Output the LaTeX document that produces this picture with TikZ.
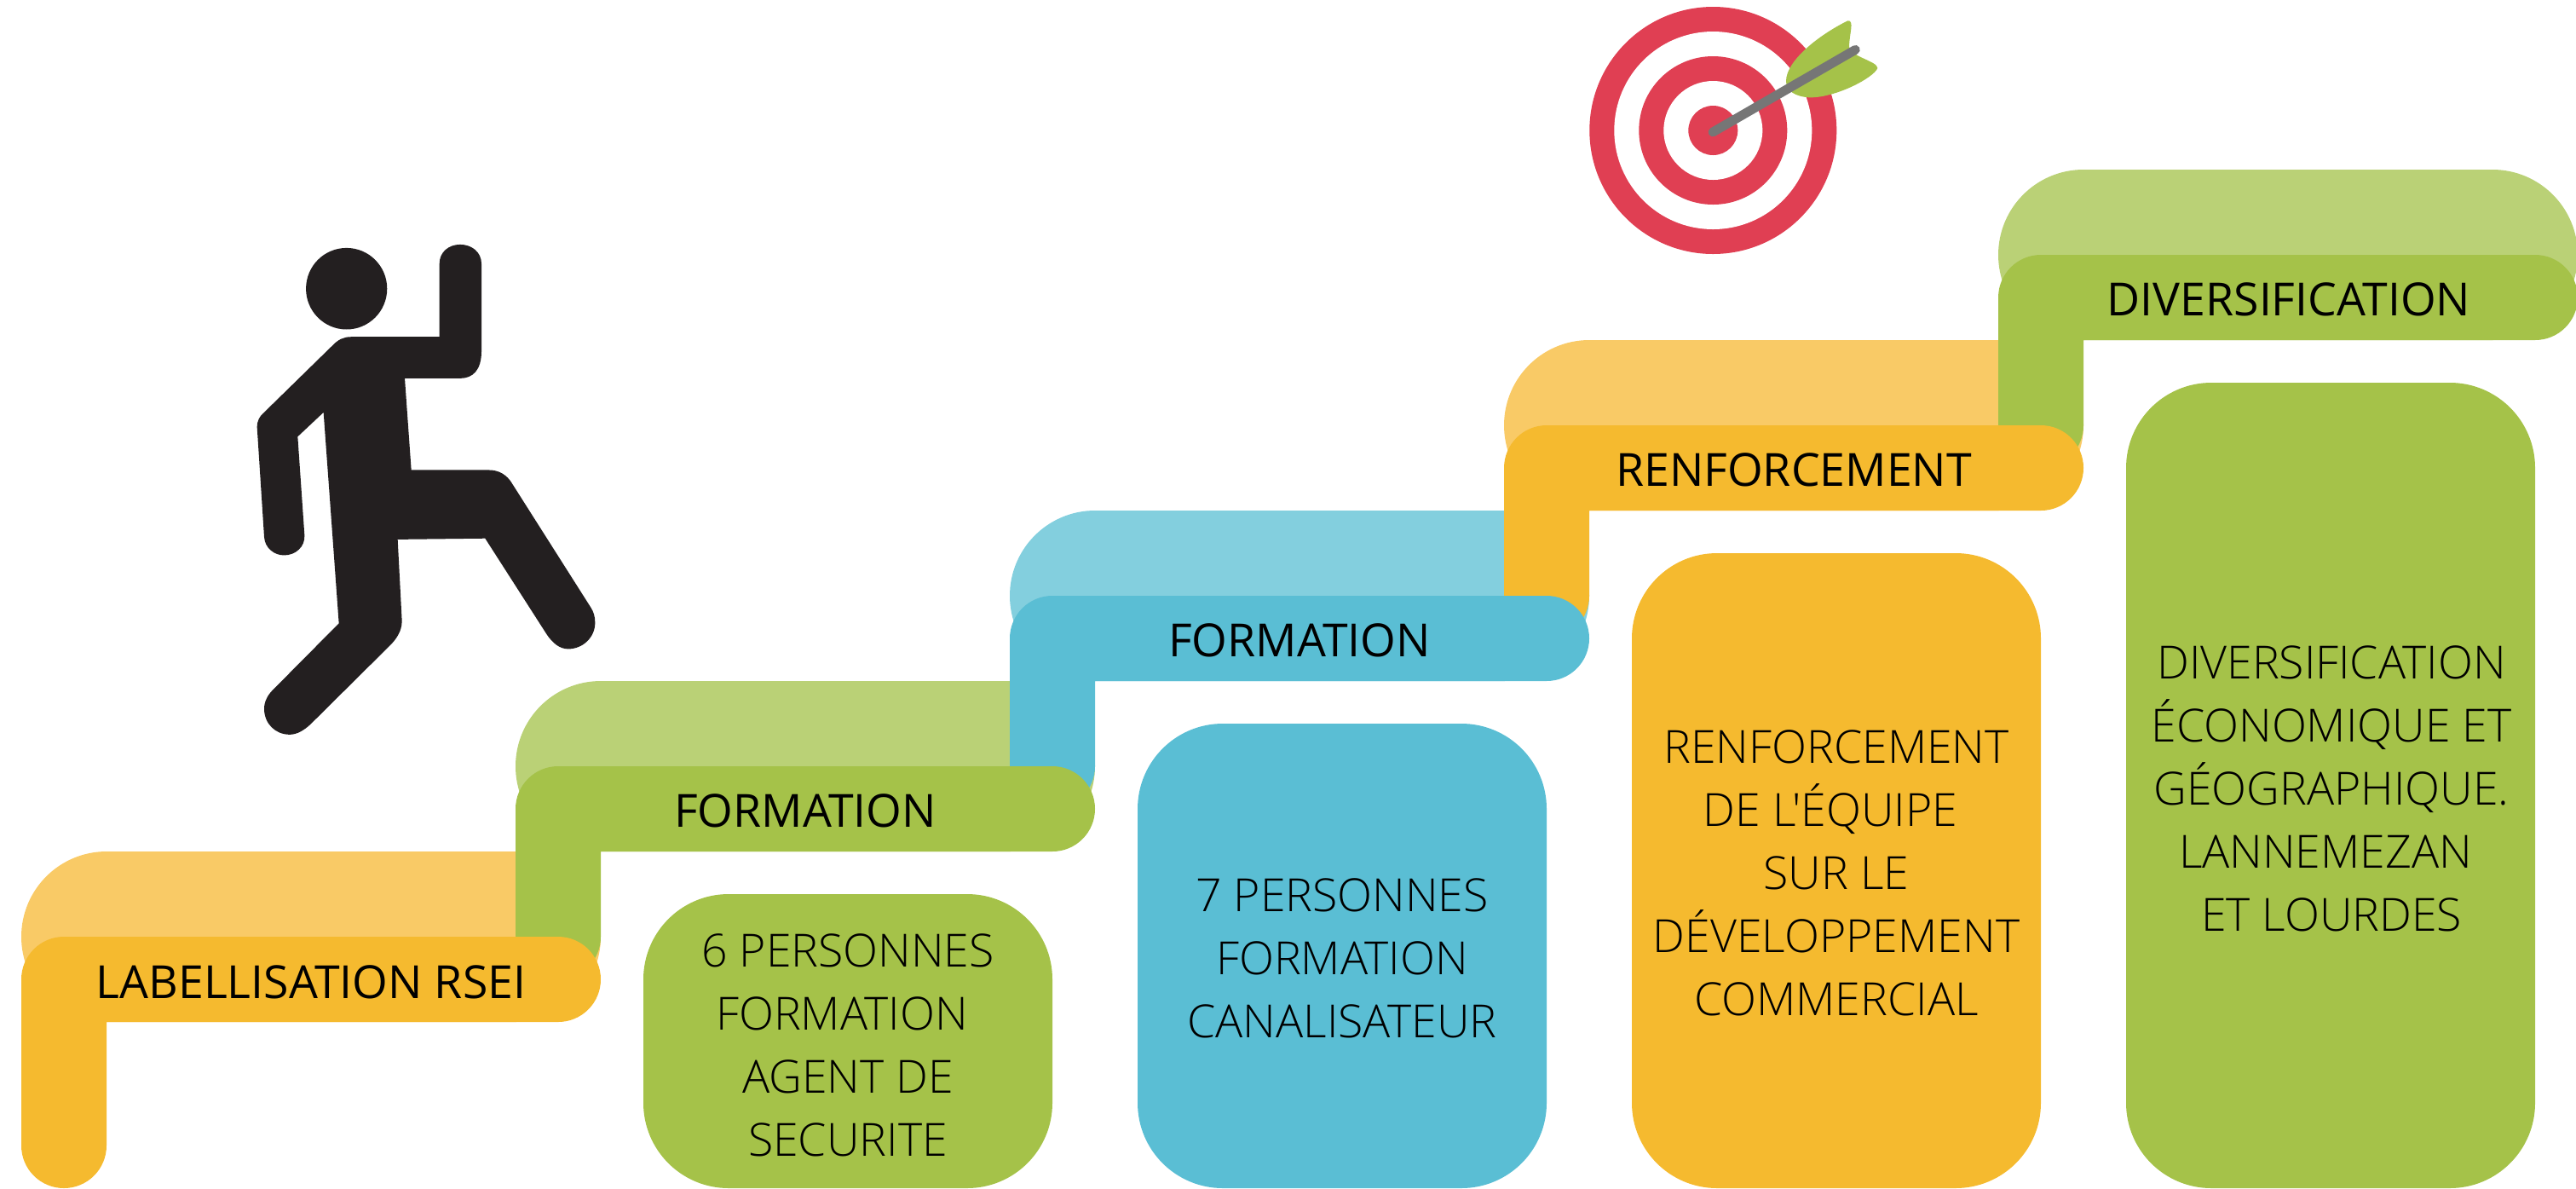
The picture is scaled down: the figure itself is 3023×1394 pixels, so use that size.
\documentclass[tikz,border=0pt]{standalone}
\usepackage{fontspec}
\newfontfamily\boxfont{Open Sans}[UprightFont=* Light,BoldFont=*]
\newfontfamily\labfont{Open Sans}
\definecolor{orS}{HTML}{F5BA2F}
\definecolor{orL}{HTML}{F9CA66}
\definecolor{grS}{HTML}{A5C249}
\definecolor{grL}{HTML}{BAD176}
\definecolor{blS}{HTML}{5ABED4}
\definecolor{blL}{HTML}{83CFDE}
\definecolor{redT}{HTML}{E03F53}
\definecolor{darkP}{HTML}{231F20}
\definecolor{grayA}{HTML}{767676}
\newcommand{\trailsp}{\hspace*{0.26em}\null}
\tikzset{
  px/.style={x=0.5pt,y=-0.5pt},
  barlabel/.style={inner sep=0,font=\labfont\fontsize{26.8}{30}\selectfont,text=black,anchor=center},
  boxtext/.style={inner sep=0,align=center,font=\boxfont\fontsize{26.8}{37}\selectfont,text=black,anchor=center}
}
\newcommand{\backpill}[3]{\fill[#3,rounded corners=50pt] (#1,#2-100) rectangle ++(680,200);}
\newcommand{\stepshape}[4]{\fill[#3] (#1,#2+50)
  arc[start angle=180,end angle=90,x radius=25pt,y radius=25pt]
  -- ++(580,0) arc[start angle=90,end angle=-90,x radius=25pt,y radius=25pt]
  -- (#1+100,#2+100) -- (#1+100,#2+#4-50)
  arc[start angle=0,end angle=-180,x radius=25pt,y radius=25pt] -- cycle;}
\newcommand{\infobox}[3]{\fill[#3,rounded corners=50pt] (#1,#2) rectangle (#1+480,1394+#2*0);}
\begin{document}
\begin{tikzpicture}[px]
\useasboundingbox (0,0) rectangle (3023,1394);
\begin{scope}
\clip (0,0) rectangle (3023,1394);
\backpill{25}{1099}{orL}
\backpill{605}{899}{grL}
\backpill{1185}{699}{blL}
\backpill{1765}{499}{orL}
\backpill{2345}{299}{grL}
\stepshape{2345}{299}{grS}{250}
\stepshape{1765}{499}{orS}{250}
\stepshape{1185}{699}{blS}{250}
\stepshape{605}{899}{grS}{250}
\stepshape{25}{1099}{orS}{295}
\infobox{755}{1049}{grS}
\infobox{1335}{849}{blS}
\infobox{1915}{649}{orS}
\infobox{2495}{449}{grS}
\end{scope}
\node[barlabel] (l1) at (365,1152) {LABELLISATION RSEI};
\node[barlabel] (l2) at (945,951) {FORMATION};
\node[barlabel] (l3) at (1525,751) {FORMATION};
\node[barlabel] (l4) at (2105,551) {RENFORCEMENT};
\node[barlabel] (l5) at (2686,351) {DIVERSIFICATION};
\node[boxtext] (b1) at (995,1226) {6 PERSONNES\\FORMATION\trailsp\\AGENT DE\\SECURITE};
\node[boxtext] (b2) at (1575,1124) {7 PERSONNES\\FORMATION\\CANALISATEUR};
\node[boxtext] (b3) at (2155,1024) {RENFORCEMENT\\DE L'ÉQUIPE\trailsp\\SUR LE\\DÉVELOPPEMENT\\COMMERCIAL};
\node[boxtext] (b4) at (2736,925) {DIVERSIFICATION\\ÉCONOMIQUE ET\\GÉOGRAPHIQUE.\\LANNEMEZAN\trailsp\\ET LOURDES};
% climbing person
\begin{scope}[shift={(250,260)},x=0.16667pt,y=-0.19771pt]
\fill[darkP] (470,199) ellipse[x radius=23.8pt,y radius=23.9pt];
\fill[darkP] (485,342) -- (797,342) -- (797,125)
  .. controls (797,90) and (830,68) .. (870,68)
  .. controls (910,68) and (945,90) .. (945,125)
  -- (945,385) .. controls (945,440) and (915,465) .. (870,465)
  -- (675,465) -- (698,737) -- (970,737)
  .. controls (1005,737) and (1035,750) .. (1055,780)
  -- (1330,1145) .. controls (1340,1158) and (1345,1172) .. (1345,1190)
  .. controls (1345,1235) and (1300,1268) .. (1250,1268)
  .. controls (1220,1268) and (1195,1250) .. (1175,1225)
  -- (958,940) -- (650,943) -- (665,1185)
  .. controls (665,1215) and (645,1240) .. (620,1260)
  -- (345,1490) .. controls (320,1510) and (295,1522) .. (270,1522)
  .. controls (220,1522) and (180,1490) .. (180,1445)
  .. controls (180,1425) and (192,1405) .. (210,1390)
  -- (443,1192) -- (389,566) -- (298,638) -- (322,930)
  .. controls (325,965) and (290,990) .. (250,990)
  .. controls (215,990) and (182,968) .. (180,935)
  -- (155,610) .. controls (155,590) and (165,578) .. (175,570)
  -- (420,368) .. controls (440,350) and (460,342) .. (485,342) -- cycle;
\end{scope}
% target
\coordinate (tc) at (2010.3,153);
\fill[redT] (tc) circle[radius=72.5pt];
\fill[white] (tc) circle[radius=58pt];
\fill[redT] (tc) circle[radius=43.5pt];
\fill[white] (tc) circle[radius=29pt];
\fill[redT] (tc) circle[radius=14.5pt];
\begin{scope}[shift={(1840,0)},x=0.16667pt,y=-0.16667pt]
\fill[grS] (768,285) .. controls (768,215) and (880,125) .. (985,73)
  .. controls (1010,70) and (990,120) .. (990,165)
  .. controls (995,200) and (1090,215) .. (1090,240)
  .. controls (1075,275) and (940,345) .. (850,343)
  .. controls (800,340) and (768,320) .. (768,285) -- cycle;
\coordinate (ar1) at (510,465);
\coordinate (ar2) at (1012,175);
\draw[grayA,line width=5.4pt,line cap=round] (ar1) -- (ar2);
\end{scope}
\end{tikzpicture}
\end{document}
